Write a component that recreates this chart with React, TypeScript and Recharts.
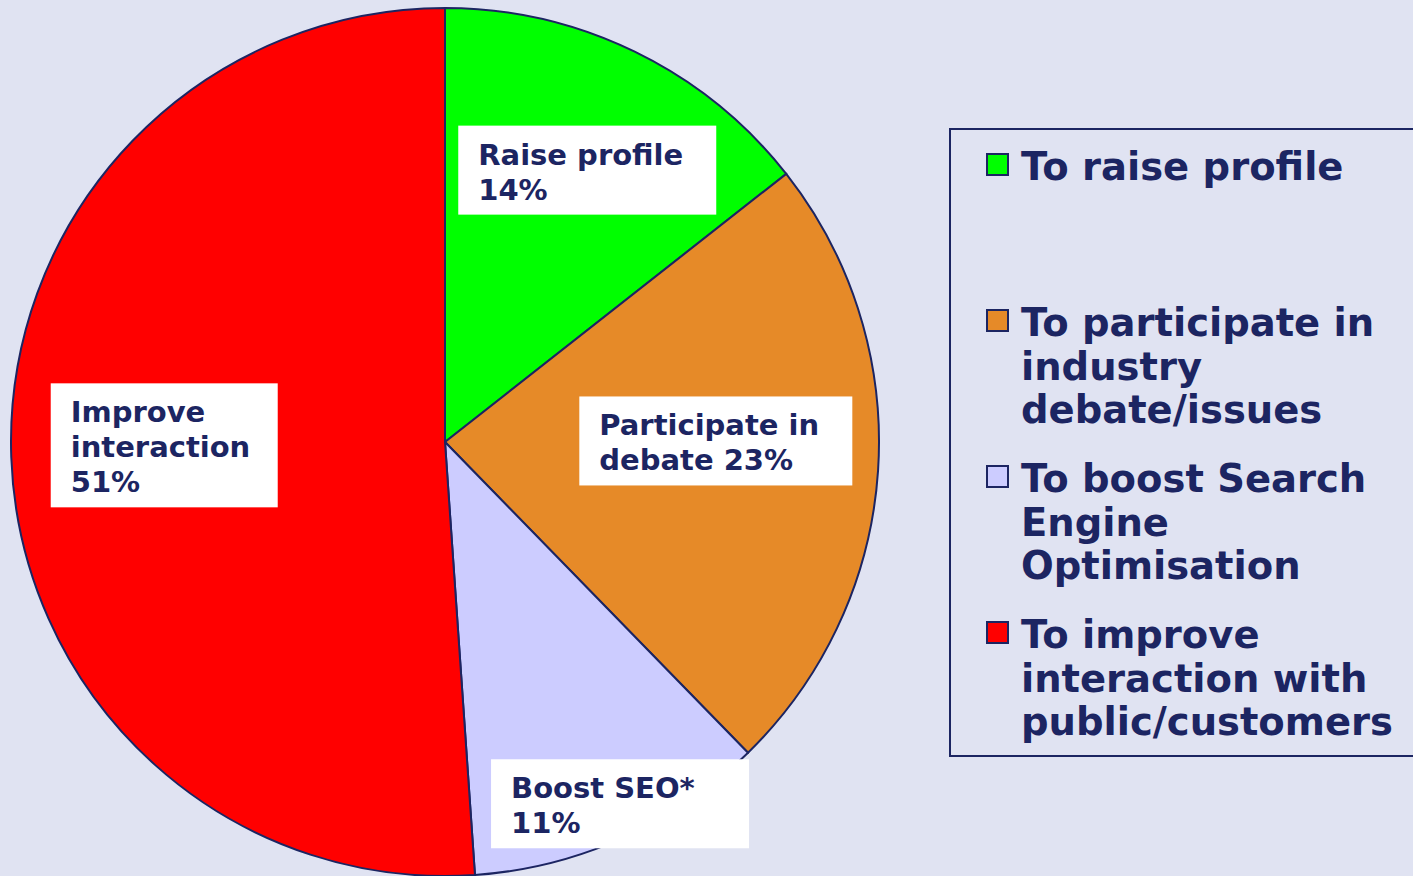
import React from 'react';
import { PieChart, Pie, Cell, Legend } from 'recharts';

// ---- data ----
const categories = [
  'To raise profile',
  'To participate in industry debate/issues',
  'To boost Search Engine Optimisation',
  'To improve interaction with public/customers',
];
const legendLines = [
  ['To raise profile'],
  ['To participate in', 'industry', 'debate/issues'],
  ['To boost Search', 'Engine', 'Optimisation'],
  ['To improve', 'interaction with', 'public/customers'],
];
const shares = [14.4, 23.3, 11.2, 51.1];
const sliceLabels = [
  ['Raise profile', '{v}%'],
  ['Participate in', 'debate {v}%'],
  ['Boost SEO*', '{v}%'],
  ['Improve', 'interaction', '{v}%'],
];

// ---- styles ----
const colors = ['#00ff00', '#e68a28', '#ccccff', '#ff0000'];
const NAVY = '#1c2562';
const BG = '#e0e3f2';
const FONT = '"DejaVu Sans", Verdana, sans-serif';
// label box placement: radius fraction, angular tweak (deg, clockwise), box width
const labelPlacement = [
  { rf: 0.707, da: 1.7, w: 258 },
  { rf: 0.624, da: -4, w: 273 },
  { rf: 0.926, da: -1.7, w: 258 },
  { rf: 0.647, da: 1.3, w: 227 },
];

const data = categories.map((name, i) => ({ name, value: shares[i] }));

const renderLabel = (props: any) => {
  const { cx, cy, midAngle, outerRadius, index, value } = props;
  const p = labelPlacement[index];
  const ang = ((midAngle - p.da) * Math.PI) / 180;
  const r = outerRadius * p.rf;
  const x = cx + r * Math.cos(-ang);
  const y = cy + r * Math.sin(-ang);
  const lines = sliceLabels[index].map((s) => s.replace('{v}', String(Math.round(value))));
  const h = 54 + 35 * (lines.length - 1);
  const left = x - p.w / 2;
  const top = y - h / 2;
  return (
    <g key={`lbl-${index}`}>
      <rect x={left} y={top} width={p.w} height={h} fill="#ffffff" />
      <text fill={NAVY} fontFamily={FONT} fontWeight="bold" fontSize={29} stroke="none">
        {lines.map((l, i) => (
          <tspan key={i} x={left + 20} y={top + 39 + i * 35}>
            {l}
          </tspan>
        ))}
      </text>
    </g>
  );
};

const renderLegend = (props: any) => {
  const payload = [...(props.payload || [])].sort(
    (a: any, b: any) => categories.indexOf(a.value) - categories.indexOf(b.value)
  );
  return (
    <div
      style={{
        width: 480,
        height: 629,
        border: `2px solid ${NAVY}`,
        boxSizing: 'border-box',
        paddingTop: 15,
        fontFamily: FONT,
        fontWeight: 'bold',
        fontSize: 38.5,
        color: NAVY,
      }}
    >
      {payload.map((entry: any) => {
        const idx = categories.indexOf(entry.value);
        return (
          <div key={entry.value} style={{ height: 156, display: 'flex', alignItems: 'flex-start' }}>
            <div
              style={{
                width: 23,
                height: 23,
                boxSizing: 'border-box',
                border: `2px solid ${NAVY}`,
                background: colors[idx],
                marginLeft: 35,
                marginTop: 8,
                marginRight: 12,
                flexShrink: 0,
              }}
            />
            <div style={{ lineHeight: '43.5px', whiteSpace: 'nowrap' }}>
              {legendLines[idx].map((l, j) => (
                <div key={j}>{l}</div>
              ))}
            </div>
          </div>
        );
      })}
    </div>
  );
};

export default function App() {
  return (
    <div
      style={{
        position: 'absolute',
        left: 0,
        top: 0,
        width: 1413,
        height: 876,
        background: BG,
        overflow: 'hidden',
      }}
    >
      <PieChart width={1413} height={876} margin={{ top: 0, right: 0, bottom: 0, left: 0 }}>
        <Pie
          data={data}
          dataKey="value"
          nameKey="name"
          cx={445}
          cy={442}
          outerRadius={434}
          startAngle={90}
          endAngle={-270}
          stroke={NAVY}
          strokeWidth={2}
          label={renderLabel}
          labelLine={false}
          isAnimationActive={false}
        >
          {data.map((d, i) => (
            <Cell key={d.name} fill={colors[i]} />
          ))}
        </Pie>
        <Legend
          layout="vertical"
          align="right"
          verticalAlign="top"
          itemSorter={null as any}
          content={renderLegend}
          wrapperStyle={{ position: 'absolute', left: 949, top: 128, width: 480, height: 629 }}
        />
      </PieChart>
    </div>
  );
}
